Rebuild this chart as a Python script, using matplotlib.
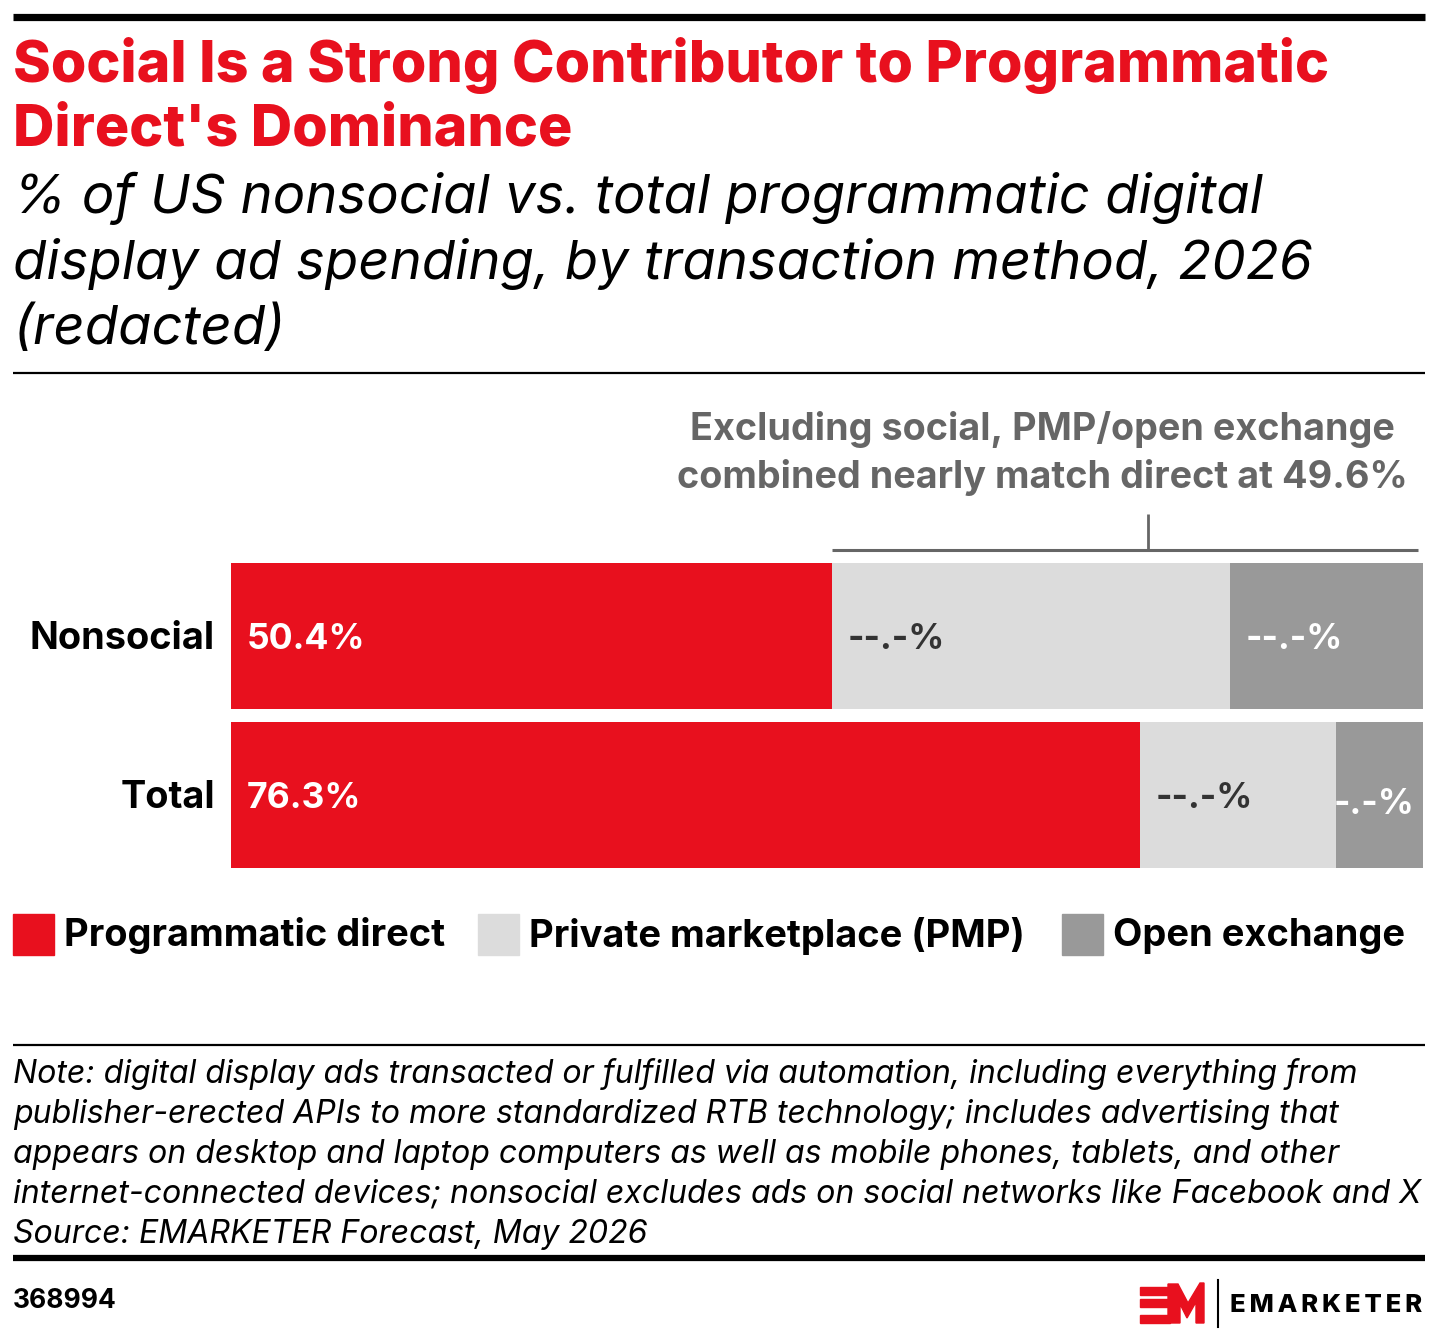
import matplotlib
matplotlib.use('Agg')
import matplotlib.pyplot as plt
from matplotlib.patches import Rectangle, Polygon
from matplotlib.lines import Line2D

# ==========================================
# DATA
# ==========================================
categories = ['Nonsocial', 'Total']
direct = [50.4, 76.3]
pmp = [33.4, 16.4]
open_ex = [16.2, 7.3]
direct_labels = ['50.4%', '76.3%']
pmp_labels = ['--.-%', '--.-%']
open_labels = ['--.-%', '-.-%']
legend_names = ['Programmatic direct', 'Private marketplace (PMP)', 'Open exchange']

RED = '#E8101E'
LIGHT = '#DCDCDC'
DARK = '#999999'
ANNO = '#666666'

plt.rcParams['font.family'] = ['Inter', 'DejaVu Sans']

W, H = 1440, 1339
fig = plt.figure(figsize=(W / 100, H / 100), dpi=100)


def fx(px):
    return px / W


def fy(py):
    return 1 - py / H


def hline(y, x0, x1, lw, color='black'):
    fig.add_artist(Line2D([fx(x0), fx(x1)], [fy(y), fy(y)], lw=lw, color=color,
                          transform=fig.transFigure, solid_capstyle='butt'))


# header
hline(16.5, 13, 1425, 5.2)
fig.text(fx(13), fy(66), "Social Is a Strong Contributor to Programmatic",
         color=RED, fontsize=41.3, fontweight='heavy', va='center')
fig.text(fx(13), fy(131), "Direct's Dominance",
         color=RED, fontsize=41.3, fontweight='heavy', va='center')
subtitle = ["% of US nonsocial vs. total programmatic digital",
            "display ad spending, by transaction method, 2026",
            "(redacted)"]
for i, line in enumerate(subtitle):
    fig.text(fx(13), fy(198 + 66 * i), line, color='black', fontsize=39.2,
             fontstyle='italic', va='center')
hline(373, 13, 1425, 1.6)

# ==========================================
# BARS
# ==========================================
top_px, bot_px = 563, 868
ax = fig.add_axes([fx(231), fy(bot_px), fx(1423) - fx(231), (bot_px - top_px) / H])
y = list(range(len(categories)))
bh = 0.918
ax.barh(y, direct, height=bh, color=RED)
ax.barh(y, pmp, left=direct, height=bh, color=LIGHT)
left_open = [d + p for d, p in zip(direct, pmp)]
ax.barh(y, open_ex, left=left_open, height=bh, color=DARK)
ax.set_xlim(0, 100)
ax.set_ylim(len(categories) - 1 + bh / 2, -bh / 2)
ax.axis('off')

pad = 1.3
for i, cat in enumerate(categories):
    ax.text(-1.35, i + 0.02, cat, ha='right', va='center', fontsize=27.3,
            fontweight='bold')
    ax.text(pad, i + 0.02, direct_labels[i], ha='left', va='center', fontsize=25.6,
            fontweight='bold', color='white')
    ax.text(direct[i] + pad, i + 0.02, pmp_labels[i], ha='left', va='center',
            fontsize=25.6, fontweight='bold', color='#333333')
    if open_ex[i] > 12:
        ax.text(left_open[i] + pad, i + 0.02, open_labels[i], ha='left', va='center',
                fontsize=25.6, fontweight='bold', color='white')
    else:
        ax.text(100 - 0.7, i + 0.06, open_labels[i], ha='right', va='center',
                fontsize=25.6, fontweight='bold', color='white')

# bracket annotation over PMP + open exchange
ax.plot([direct[0], 99.6], [-0.54, -0.54], color=ANNO, lw=2.2, clip_on=False,
        solid_capstyle='butt')
ax.plot([76.9, 76.9], [-0.54, -0.77], color=ANNO, lw=2.0, clip_on=False,
        solid_capstyle='butt')
fig.text(fx(1042), fy(429), "Excluding social, PMP/open exchange", ha='center',
         va='center', fontsize=27.2, fontweight='bold', color=ANNO)
fig.text(fx(1042), fy(478), "combined nearly match direct at 49.6%", ha='center',
         va='center', fontsize=27.2, fontweight='bold', color=ANNO)

# ==========================================
# LEGEND
# ==========================================
legend_colors = [RED, LIGHT, DARK]
legend_x = [13, 478, 1062]
for name, c, x0 in zip(legend_names, legend_colors, legend_x):
    fig.add_artist(Rectangle((fx(x0), fy(955)), fx(41), 41 / H, color=c,
                             transform=fig.transFigure))
    fig.text(fx(x0 + 51), fy(936), name, ha='left', va='center', fontsize=27.4,
             fontweight='bold')

# ==========================================
# FOOTER
# ==========================================
hline(1045, 13, 1425, 1.6)
notes = ["Note: digital display ads transacted or fulfilled via automation, including everything from",
         "publisher-erected APIs to more standardized RTB technology; includes advertising that",
         "appears on desktop and laptop computers as well as mobile phones, tablets, and other",
         "internet-connected devices; nonsocial excludes ads on social networks like Facebook and X",
         "Source: EMARKETER Forecast, May 2026"]
for i, line in enumerate(notes):
    fig.text(fx(13), fy(1074 + 40 * i), line, fontsize=23.1, fontstyle='italic',
             va='center', color='black')
hline(1258, 13, 1425, 4.5)
fig.text(fx(13), fy(1301), "368994", fontsize=19, fontweight='bold', va='center')

# logo
for y0 in (1287, 1299, 1315):
    fig.add_artist(Rectangle((fx(1140), fy(y0 + 8)), fx(30), 8 / H, color=RED,
                             transform=fig.transFigure))
m_pts = [(1168, 1323), (1168, 1284), (1178, 1284), (1188, 1303), (1200, 1283),
         (1204, 1283), (1204, 1323), (1196, 1323), (1196, 1302), (1187, 1318),
         (1180, 1304), (1180, 1323)]
fig.add_artist(Polygon([(fx(a), fy(b)) for a, b in m_pts], closed=True, color=RED,
                       transform=fig.transFigure))
fig.add_artist(Line2D([fx(1218), fx(1218)], [fy(1280), fy(1327)], lw=1.5,
                      color='black', transform=fig.transFigure))
fig.text(fx(1230), fy(1305), "E M A R K E T E R".replace(' ', '\u2009'),
         fontsize=18.5, fontweight='heavy', va='center', ha='left')

fig.savefig('out.png', dpi=100)
